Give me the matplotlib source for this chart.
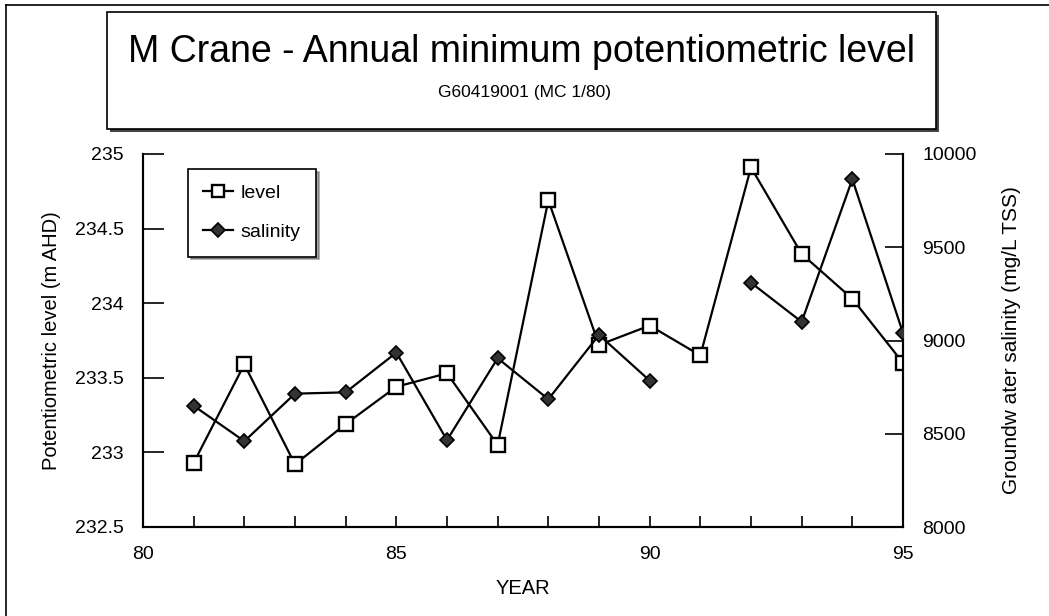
import numpy as np
import matplotlib
matplotlib.use("Agg")
import matplotlib.pyplot as plt
from matplotlib.patches import Rectangle
from matplotlib.lines import Line2D

plt.rcParams['font.family'] = ['Liberation Sans', 'DejaVu Sans']

years = [81, 82, 83, 84, 85, 86, 87, 88, 89, 90, 91, 92, 93, 94, 95]
level = [232.93, 233.59, 232.92, 233.19, 233.44, 233.53, 233.05, 234.69,
         233.72, 233.85, 233.65, 234.91, 234.33, 234.03, 233.60]
salinity = [8650, 8460, 8715, 8722, 8935, 8466, 8905, 8685,
            9030, 8785, np.nan, 9310, 9100, 9865, 9040]

W, H = 1049, 616
fig = plt.figure(figsize=(W / 100, H / 100), dpi=100)

def fx(px):
    return px / W

def fy(py):
    return 1 - py / H

# outer frame (left and top only visible)
fig.add_artist(Line2D([fx(6), fx(6)], [fy(5), 0], color='black', lw=1.2))
fig.add_artist(Line2D([fx(6), 1], [fy(5), fy(5)], color='black', lw=1.2))

# title box with shadow
bx0, bx1, by0, by1 = 107, 936, 12, 129
fig.add_artist(Rectangle((fx(bx0 + 3), fy(by1 + 3)), fx(bx1 - bx0), fy(by0) - fy(by1),
                         transform=fig.transFigure, facecolor='#444444', edgecolor='none'))
fig.add_artist(Rectangle((fx(bx0), fy(by1)), fx(bx1 - bx0), fy(by0) - fy(by1),
                         transform=fig.transFigure, facecolor='white', edgecolor='black', lw=1.2))
fig.text(fx(521), fy(52), "M Crane - Annual minimum potentiometric level",
         ha='center', va='center', fontsize=27)
fig.text(fx(525), fy(92), "G60419001 (MC 1/80)",
         ha='center', va='center', fontsize=12.5)

ax = fig.add_axes([fx(143), fy(527), fx(903 - 143), fy(154) - fy(527)])
ax2 = ax.twinx()

l1, = ax.plot(years, level, color='black', lw=1.6, marker='s', ms=9.5,
              mfc='white', mec='black', mew=1.7, label='level', zorder=3)
l2, = ax2.plot(years, salinity, color='black', lw=1.6, marker='D', ms=7.5,
               mfc='#333333', mec='black', mew=1.2, label='salinity', zorder=3)

ax.set_xlim(80, 95)
ax.set_ylim(232.5, 235)
ax2.set_ylim(8000, 10000)
ax.set_xticks([80, 85, 90, 95])
ax.set_xticks(range(80, 96), minor=True)
ax.set_yticks([232.5, 233, 233.5, 234, 234.5, 235])
ax.set_yticklabels(['232.5', '233', '233.5', '234', '234.5', '235'])
ax2.set_yticks([8000, 8500, 9000, 9500, 10000])

ax.tick_params(axis='x', which='both', direction='in', length=8, width=1.2,
               pad=14, labelsize=14)
ax.tick_params(axis='y', direction='in', length=15, width=1.2, pad=14, labelsize=14)
ax2.tick_params(axis='y', direction='in', length=13, width=1.2, pad=14, labelsize=14)

for a in (ax, ax2):
    a.spines['top'].set_visible(False)
    for s in ('left', 'right', 'bottom'):
        a.spines[s].set_linewidth(1.5)

ax.set_xlabel("YEAR", fontsize=14.5, labelpad=11)
ax.set_ylabel("Potentiometric level (m AHD)", fontsize=14.5, labelpad=10)
ax2.set_ylabel("Groundw ater salinity (mg/L TSS)", fontsize=15, labelpad=18)

leg = ax.legend(handles=[l1, l2], loc='upper left', bbox_to_anchor=(0.059, 0.96),
                borderaxespad=0, fontsize=14, frameon=True, fancybox=False,
                shadow=True, edgecolor='black', handlelength=1.5,
                handletextpad=0.4, borderpad=0.8, labelspacing=1.1,
                markerscale=0.9)
leg.get_frame().set_linewidth(1.2)

fig.savefig("out.png", dpi=100)
